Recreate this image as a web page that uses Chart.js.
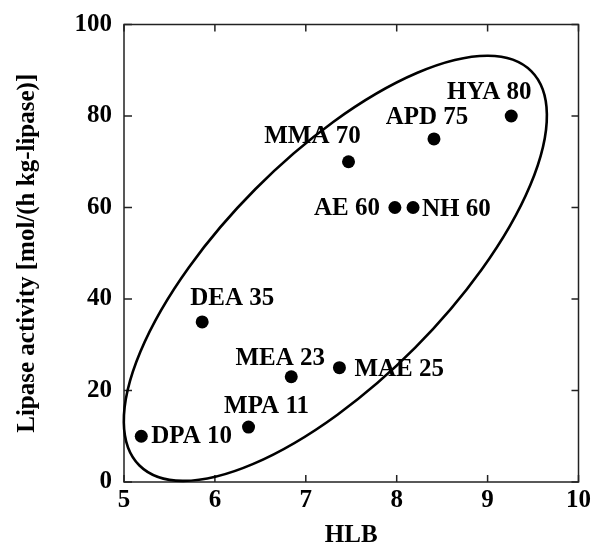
<!DOCTYPE html>
<html>
<head>
<meta charset="utf-8">
<title>Lipase activity vs HLB</title>
<script src="https://cdn.jsdelivr.net/npm/chart.js"></script>
<style>
  html, body { margin: 0; padding: 0; background: #fff; }
  #wrap { width: 597px; height: 544px; }
</style>
</head>
<body>
<div id="wrap"><canvas id="hlbChart"></canvas></div>
<script>
  var names = ['DPA 10', 'MPA 11', 'DEA 35', 'MEA 23', 'MAE 25', 'AE 60', 'NH 60', 'MMA 70', 'APD 75', 'HYA 80'];
  var hlb = [5.19, 6.37, 5.86, 6.84, 7.37, 7.98, 8.18, 7.47, 8.41, 9.26];
  var activity = [10, 12, 35, 23, 25, 60, 60, 70, 75, 80];
  var xTicks = [5, 6, 7, 8, 9, 10];
  var yTicks = [0, 20, 40, 60, 80, 100];

  // ellipse round the points: both ends of its long axis (HLB, activity)
  var ellipseEnds = [[5.17, 3.6], [9.48, 89.8]];
  var ellipseRatio = 0.405; // short axis / long axis

  // where each name sits next to its dot (px offset, alignment)
  var labelPlace = [
    [10, 0, 'left'], [18, -21, 'center'], [30, -23, 'center'], [-11, -18, 'center'],
    [15, 2, 'left'], [-15, 1, 'right'], [9, 2, 'left'], [-36, -25, 'center'],
    [-7, -21, 'center'], [-22, -23, 'center']
  ];

  var serif = "'Liberation Serif', 'Times New Roman', serif";
  var font = { family: serif, size: 25, weight: 'bold', lineHeight: 1 };

  var points = hlb.map(function (x, i) { return { x: x, y: activity[i] }; });

  var framePlugin = {
    id: 'frame',
    beforeDatasetsDraw: function (chart) {
      var ctx = chart.ctx, a = chart.chartArea;
      var xs = chart.scales.x, ys = chart.scales.y;
      ctx.save();
      ctx.strokeStyle = '#222';
      ctx.lineWidth = 1.5;
      ctx.strokeRect(a.left, a.top, a.right - a.left, a.bottom - a.top);
      ctx.beginPath();
      xTicks.forEach(function (v) {
        var px = xs.getPixelForValue(v);
        ctx.moveTo(px, a.bottom); ctx.lineTo(px, a.bottom - 7);
        ctx.moveTo(px, a.top); ctx.lineTo(px, a.top + 7);
      });
      yTicks.forEach(function (v) {
        var py = ys.getPixelForValue(v);
        ctx.moveTo(a.left, py); ctx.lineTo(a.left + 8, py);
        ctx.moveTo(a.right, py); ctx.lineTo(a.right - 7, py);
      });
      ctx.stroke();

      // ellipse
      var p1x = xs.getPixelForValue(ellipseEnds[0][0]), p1y = ys.getPixelForValue(ellipseEnds[0][1]);
      var p2x = xs.getPixelForValue(ellipseEnds[1][0]), p2y = ys.getPixelForValue(ellipseEnds[1][1]);
      var cx = (p1x + p2x) / 2, cy = (p1y + p2y) / 2;
      var rx = Math.hypot(p2x - p1x, p2y - p1y) / 2;
      var rot = Math.atan2(p2y - p1y, p2x - p1x);
      ctx.beginPath();
      ctx.ellipse(cx, cy, rx, rx * ellipseRatio, rot, 0, 2 * Math.PI);
      ctx.strokeStyle = '#000';
      ctx.lineWidth = 2.6;
      ctx.stroke();
      ctx.restore();
    },
    afterDatasetsDraw: function (chart) {
      var ctx = chart.ctx;
      var meta = chart.getDatasetMeta(0);
      ctx.save();
      ctx.fillStyle = '#000';
      ctx.font = 'bold 25px ' + serif;
      ctx.textBaseline = 'middle';
      meta.data.forEach(function (pt, i) {
        var p = labelPlace[i];
        ctx.textAlign = p[2];
        ctx.fillText(names[i], pt.x + p[0], pt.y + p[1]);
      });
      ctx.restore();
    }
  };

  var config = {
    type: 'scatter',
    data: {
      datasets: [{
        label: 'Lipase activity',
        data: points,
        backgroundColor: '#000',
        borderWidth: 0,
        pointRadius: 6.5,
        pointHoverRadius: 6.5
      }]
    },
    options: {
      responsive: true,
      maintainAspectRatio: false,
      animation: false,
      layout: { padding: { top: 24, right: 15, left: 0, bottom: 0 } },
      scales: {
        x: {
          type: 'linear',
          min: 5,
          max: 10,
          afterFit: function (s) { s.height = 62; },
          afterBuildTicks: function (s) { s.ticks = xTicks.map(function (v) { return { value: v }; }); },
          grid: { display: false, drawTicks: false },
          border: { display: false },
          ticks: { color: '#000', font: font, padding: 6, maxRotation: 0 },
          title: {
            display: true,
            text: 'HLB',
            color: '#000',
            font: font,
            padding: { top: 0, bottom: -4 }
          }
        },
        y: {
          type: 'linear',
          min: 0,
          max: 100,
          afterFit: function (s) { s.width = 124; },
          afterBuildTicks: function (s) { s.ticks = yTicks.map(function (v) { return { value: v }; }); },
          grid: { display: false, drawTicks: false },
          border: { display: false },
          ticks: { color: '#000', font: font, padding: 12 },
          title: {
            display: true,
            text: 'Lipase activity [mol/(h kg-lipase)]',
            color: '#000',
            font: font,
            padding: { top: 15, bottom: 0 }
          }
        }
      },
      plugins: {
        legend: { display: false },
        tooltip: { enabled: false }
      }
    },
    plugins: [framePlugin]
  };

  var hlbChart = new Chart(document.getElementById('hlbChart'), config);
</script>
</body>
</html>
